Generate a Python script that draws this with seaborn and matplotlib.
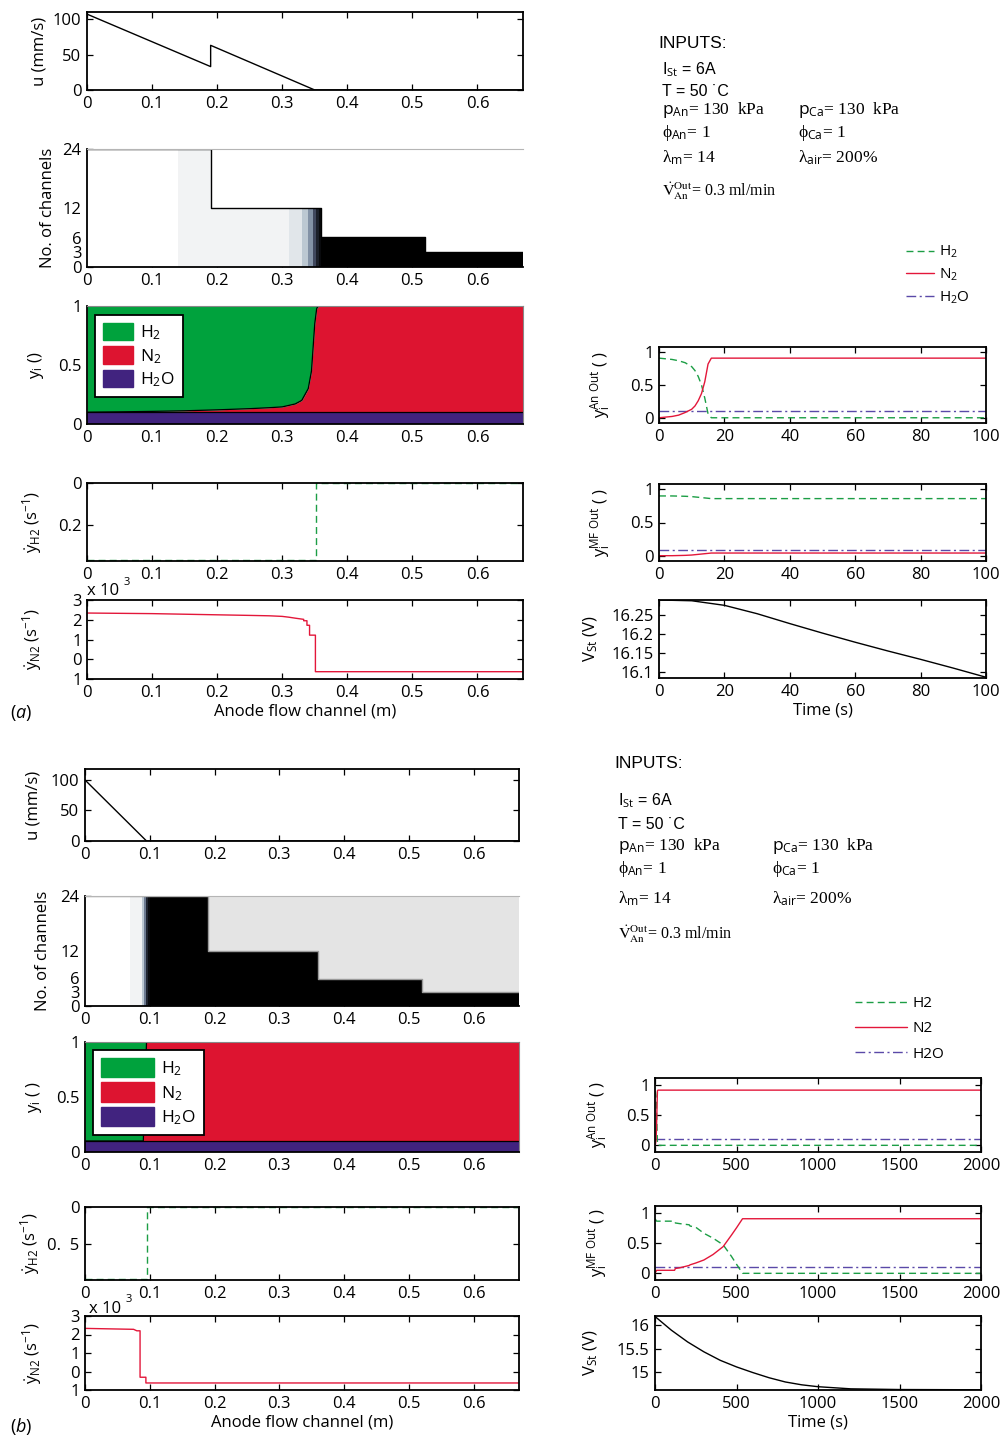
import numpy as np
import matplotlib
matplotlib.use("Agg")
import matplotlib.pyplot as plt
import seaborn as sns
from matplotlib.patches import Patch
from matplotlib.lines import Line2D
from matplotlib.colors import LinearSegmentedColormap

# ---------------- data ----------------
CH_EDGES = [0, 0.19, 0.36, 0.52, 0.67]
CH_COUNT = [24, 12, 6, 3]
CH_YEDGES = [0, 3, 6, 12, 24]

A_U_X = [0, 0.19, 0.19, 0.35, 0.67]
A_U_Y = [107, 33, 63, 0, 0]
B_U_X = [0, 0.095, 0.67]
B_U_Y = [100, 0, 0]

A_MAP_EDGES = [0, 0.14, 0.31, 0.33, 0.34, 0.347, 0.352, 0.356, 0.36, 0.67]
A_MAP_N2 = [0.0, 0.12, 0.25, 0.4, 0.55, 0.7, 0.82, 0.92, 1.0]
B_MAP_EDGES = [0, 0.07, 0.088, 0.091, 0.094, 0.097, 0.1, 0.67]
B_MAP_N2 = [0.0, 0.12, 0.4, 0.6, 0.8, 0.92, 1.0]

A_YI_X = [0, 0.05, 0.1, 0.15, 0.2, 0.25, 0.28, 0.3, 0.32, 0.33, 0.34, 0.345, 0.35, 0.353, 0.356, 0.36, 0.67]
A_YI_H2O = [0.1, 0.1, 0.1, 0.1, 0.1, 0.1, 0.1, 0.1, 0.1, 0.1, 0.1, 0.1, 0.1, 0.1, 0.1, 0.1, 0.1]
A_YI_N2 = [0.0, 0.003, 0.007, 0.012, 0.02, 0.03, 0.038, 0.045, 0.07, 0.1, 0.2, 0.35, 0.75, 0.88, 0.9, 0.9, 0.9]
A_YI_H2 = [0.9, 0.897, 0.893, 0.888, 0.88, 0.87, 0.862, 0.855, 0.83, 0.8, 0.7, 0.55, 0.15, 0.02, 0.0, 0.0, 0.0]

B_YI_X = [0, 0.09, 0.095, 0.67]
B_YI_H2O = [0.1, 0.1, 0.1, 0.1]
B_YI_N2 = [0.0, 0.0, 0.9, 0.9]
B_YI_H2 = [0.9, 0.9, 0.0, 0.0]

A_H2_X = [0, 0.352, 0.352, 0.67]
A_H2_Y = [-0.365, -0.365, 0.0, 0.0]
B_H2_X = [0, 0.095, 0.095, 0.67]
B_H2_Y = [-0.99, -0.99, 0.0, 0.0]

A_N2_X = [0, 0.1, 0.2, 0.25, 0.28, 0.3, 0.31, 0.32, 0.333, 0.333, 0.338, 0.338, 0.342, 0.342, 0.351, 0.351, 0.67]
A_N2_Y = [2.34, 2.31, 2.25, 2.22, 2.2, 2.17, 2.13, 2.08, 2.02, 1.95, 1.95, 1.72, 1.72, 1.22, 1.22, -0.63, -0.63]
B_N2_X = [0, 0.075, 0.08, 0.085, 0.085, 0.094, 0.094, 0.67]
B_N2_Y = [2.33, 2.28, 2.2, 2.2, -0.31, -0.31, -0.62, -0.62]

TA_AN = [0, 2, 4, 6, 8, 10, 11, 12, 13, 14, 15, 16, 100]
A_AN_N2 = [0.0, 0.01, 0.02, 0.04, 0.08, 0.13, 0.18, 0.26, 0.37, 0.55, 0.82, 0.91, 0.91]
A_AN_H2 = [0.91, 0.9, 0.89, 0.87, 0.84, 0.78, 0.72, 0.63, 0.5, 0.3, 0.06, 0.0, 0.0]
A_AN_H2O = [0.1, 0.1, 0.1, 0.1, 0.1, 0.1, 0.1, 0.1, 0.1, 0.1, 0.1, 0.1, 0.1]

TA_MF = [0, 4, 8, 10, 12, 14, 16, 100]
A_MF_H2 = [0.9, 0.9, 0.895, 0.89, 0.88, 0.87, 0.86, 0.86]
A_MF_N2 = [0.0, 0.0, 0.005, 0.01, 0.02, 0.03, 0.04, 0.04]
A_MF_H2O = [0.09, 0.09, 0.09, 0.09, 0.09, 0.09, 0.09, 0.09]

TA_V = [0, 10, 20, 30, 40, 50, 60, 70, 80, 90, 100]
A_V = [16.289, 16.287, 16.275, 16.253, 16.227, 16.202, 16.178, 16.155, 16.133, 16.11, 16.086]

TB_AN = [0, 3, 6, 9, 12, 15, 18, 2000]
B_AN_N2 = [0.0, 0.02, 0.08, 0.25, 0.6, 0.9, 0.91, 0.91]
B_AN_H2 = [0.9, 0.88, 0.82, 0.65, 0.3, 0.02, 0.0, 0.0]
B_AN_H2O = [0.1, 0.1, 0.1, 0.1, 0.1, 0.1, 0.1, 0.1]

TB_MF = [0, 10, 120, 125, 150, 210, 215, 250, 300, 356, 418, 469, 500, 537, 2000]
B_MF_H2 = [0.9, 0.86, 0.86, 0.83, 0.82, 0.8, 0.78, 0.76, 0.66, 0.58, 0.47, 0.28, 0.15, 0.0, 0.0]
B_MF_N2 = [0.0, 0.05, 0.05, 0.08, 0.09, 0.13, 0.14, 0.17, 0.22, 0.31, 0.44, 0.63, 0.75, 0.9, 0.9]
B_MF_H2O = [0.1, 0.1, 0.1, 0.1, 0.1, 0.1, 0.1, 0.1, 0.1, 0.1, 0.1, 0.1, 0.1, 0.1, 0.1]

TB_V = [0, 100, 200, 300, 400, 500, 600, 700, 800, 900, 1000, 1200, 1500, 2000]
B_V = [16.18, 15.89, 15.64, 15.43, 15.25, 15.11, 14.99, 14.88, 14.79, 14.73, 14.69, 14.645, 14.63, 14.625]

X_TICKS = [0, 0.1, 0.2, 0.3, 0.4, 0.5, 0.6]
X_TICKLABELS = ["0", "0.1", "0.2", "0.3", "0.4", "0.5", "0.6"]

# ---------------- style ----------------
sns.set_theme(style="ticks")
plt.rcParams.update({
    "font.family": ["Open Sans", "DejaVu Sans"],
    "mathtext.fontset": "custom",
    "mathtext.rm": "Open Sans",
    "mathtext.it": "Open Sans:italic",
    "mathtext.bf": "Open Sans:bold",
    "mathtext.sf": "Open Sans",
    "axes.linewidth": 1.3,
    "axes.edgecolor": "black",
    "axes.labelcolor": "black",
    "text.color": "black",
    "xtick.color": "black",
    "ytick.color": "black",
})

GREEN_F, RED_F, PURP_F = "#00a23d", "#dd1430", "#41237f"
GREEN, RED, PURP = "#1c9e45", "#e3173a", "#5a49a8"
DASH = (0, (5, 3))
DASHDOT = (0, (7, 2.5, 1.5, 2.5))
CH_CMAP = LinearSegmentedColormap.from_list(
    "ch", ["#ffffff", "#eff0f2", "#dde3e8", "#b4c1cd", "#7a899f", "#3a4258", "#101318", "#000000"])

W, H = 1001, 1435
fig = plt.figure(figsize=(W / 100, H / 100), dpi=100)


def add_ax(l, t, r, b):
    return fig.add_axes([l / W, 1 - b / H, (r - l) / W, (b - t) / H])


def style(ax, xlim, ylim, xt, xtl, yt, ytl, box=True):
    ax.set_xlim(*xlim)
    ax.set_ylim(*ylim)
    ax.set_xticks(xt)
    ax.set_xticklabels(xtl)
    ax.set_yticks(yt)
    ax.set_yticklabels(ytl)
    ax.tick_params(direction="in", top=box, right=box, length=4, width=0.9,
                   labelsize=12, pad=4)
    ax.set_xlabel("")
    ax.set_ylabel("")
    for s in ax.spines.values():
        s.set_linewidth(1.3)
        s.set_color("black")


def ylab(ax, text, xpix, l, r):
    ax.set_ylabel(text, fontsize=12)
    ax.yaxis.set_label_coords((xpix - l) / (r - l), 0.5)


def lp(ax, x, y, color, ls="-", lw=1.0, clip=True):
    sns.lineplot(x=x, y=y, ax=ax, color=color, linestyle=ls, lw=lw,
                 estimator=None, sort=False, legend=False, clip_on=clip)


def channel_panel(ax, edges, vals, above):
    xe = np.unique(np.concatenate([edges, CH_EDGES]))
    xc = 0.5 * (xe[:-1] + xe[1:])
    val = np.array(vals)[np.searchsorted(edges, xc) - 1]
    cnt = np.array(CH_COUNT)[np.searchsorted(CH_EDGES, xc) - 1]
    ye = np.array(CH_YEDGES, dtype=float)
    yc = 0.5 * (ye[:-1] + ye[1:])
    C = np.ma.masked_array(np.tile(val, (len(yc), 1)), yc[:, None] > cnt[None, :])
    ax.set_facecolor(above)
    ax.pcolormesh(xe, ye, C, cmap=CH_CMAP, vmin=0, vmax=1, shading="flat")


def left_column(L, R, rows, u_x, u_y, u_top, mapE, mapV, above, stepc,
                yi, h2x, h2y, h2lim, h2tick, h2lab, n2x, n2y, yi_lab, leg_hl, leg_hh,
                leg_anchor, lab_x):
    (tu, bu), (tc, bc), (ty, by), (th, bh), (tn, bn) = rows
    # u
    ax = add_ax(L, tu, R, bu)
    lp(ax, u_x, u_y, "black", lw=1.0)
    style(ax, (0, 0.67), (0, u_top), X_TICKS, X_TICKLABELS, [0, 50, 100], ["0", "50", "100"])
    ylab(ax, "u (mm/s)", lab_x[0], L, R)
    # channels
    ax = add_ax(L, tc, R, bc)
    channel_panel(ax, mapE, mapV, above)
    lp(ax, CH_EDGES, CH_COUNT + [CH_COUNT[-1]], stepc, lw=1.0)
    ax.lines[-1].set_drawstyle("steps-post")
    style(ax, (0, 0.67), (0, 24), X_TICKS, X_TICKLABELS, [0, 3, 6, 12, 24],
          ["0", "3", "6", "12", "24"], box=False)
    ax.spines["right"].set_visible(False)
    ax.spines["top"].set_color("#b5b5b5")
    ax.spines["top"].set_linewidth(0.8)
    ylab(ax, "No. of channels", lab_x[1], L, R)
    # y_i stack
    ax = add_ax(L, ty, R, by)
    x, h2o, n2, h2 = yi
    ax.stackplot(x, h2o, n2, h2, colors=[PURP_F, RED_F, GREEN_F], lw=0)
    lp(ax, x, h2o, "black", lw=0.9)
    lp(ax, x, np.add(h2o, n2), "black", lw=0.9)
    style(ax, (0, 0.67), (0, 1), X_TICKS, X_TICKLABELS, [0, 0.5, 1], ["0", "0.5", "1"], box=False)
    ax.tick_params(length=0)
    for s in ["top", "right"]:
        ax.spines[s].set_color("#888888")
        ax.spines[s].set_linewidth(0.8)
    handles = [Patch(fc=GREEN_F, ec=GREEN_F), Patch(fc=RED_F, ec=RED_F), Patch(fc=PURP_F, ec=PURP_F)]
    lg = ax.legend(handles, ["H$_2$", "N$_2$", "H$_2$O"], loc="upper left",
                   bbox_to_anchor=leg_anchor, fontsize=12.5, handlelength=leg_hl,
                   handleheight=leg_hh, fancybox=False, framealpha=1, edgecolor="black",
                   borderaxespad=0, labelspacing=0.25, handletextpad=0.4, borderpad=0.45)
    lg.get_frame().set_linewidth(1.3)
    ylab(ax, yi_lab, lab_x[2], L, R)
    # yH2 dot
    ax = add_ax(L, th, R, bh)
    lp(ax, h2x, h2y, GREEN, ls=DASH, lw=1.0, clip=False)
    style(ax, (0, 0.67), h2lim, X_TICKS, X_TICKLABELS, [h2tick, 0], [h2lab, "0"])
    ylab(ax, r"$\dot{\mathrm{y}}_{\mathrm{H2}}$ (s$^{-1}$)", lab_x[3], L, R)
    # yN2 dot
    ax = add_ax(L, tn, R, bn)
    lp(ax, n2x, n2y, RED, lw=1.0)
    style(ax, (0, 0.67), (-1, 3), X_TICKS, X_TICKLABELS, [-1, 0, 1, 2, 3],
          ["1", "0", "1", "2", "3"])
    ylab(ax, r"$\dot{\mathrm{y}}_{\mathrm{N2}}$ (s$^{-1}$)", lab_x[4], L, R)
    ax.set_xlabel("Anode flow channel (m)", fontsize=12, labelpad=2)
    return ax


def right_column(L, R, rows, tmax, tticks, an, mf, v, vlim, vticks, vlabels, ylims, lab_x):
    (ta, ba), (tm, bm), (tv, bv) = rows
    tl = [str(t) for t in tticks]
    for (t, b, data, lab, lx) in [(ta, ba, an, r"$\mathrm{y_i^{An\ Out}}$ ( )", lab_x[0]),
                                 (tm, bm, mf, r"$\mathrm{y_i^{MF\ Out}}$ ( )", lab_x[1])]:
        ax = add_ax(L, t, R, b)
        tt, h2, n2, h2o = data
        lp(ax, tt, h2o, PURP, ls=DASHDOT, lw=1.0)
        lp(ax, tt, h2, GREEN, ls=DASH, lw=1.0)
        lp(ax, tt, n2, RED, lw=1.0)
        style(ax, (0, tmax), ylims, tticks, tl, [0, 0.5, 1], ["0", "0.5", "1"])
        ylab(ax, lab, lx, L, R)
    ax = add_ax(L, tv, R, bv)
    lp(ax, v[0], v[1], "black", lw=1.0)
    style(ax, (0, tmax), vlim, tticks, tl, vticks, vlabels)
    ylab(ax, r"V$_{\mathrm{St}}$ (V)", lab_x[2], L, R)
    ax.set_xlabel("Time (s)", fontsize=12, labelpad=2)


# ---------- panel (a) ----------
left_column(87, 523, [(12, 90), (149, 267), (306, 424), (483, 561), (600, 679)],
            A_U_X, A_U_Y, 110, A_MAP_EDGES, A_MAP_N2, "white", "black",
            (A_YI_X, A_YI_H2O, A_YI_N2, A_YI_H2), A_H2_X, A_H2_Y, (-0.371, 0), -0.2, "0.2",
            A_N2_X, A_N2_Y, r"$\mathrm{y_i}$ ()", 1.75, 1.15, (0.018, 0.924),
            [47, 56, 46, 44, 44])
right_column(659, 986, [(347, 423), (484, 561), (600, 678)], 100, [0, 20, 40, 60, 80, 100],
             (TA_AN, A_AN_H2, A_AN_N2, A_AN_H2O), (TA_MF, A_MF_H2, A_MF_N2, A_MF_H2O),
             (TA_V, A_V), (16.084, 16.289), [16.1, 16.15, 16.2, 16.25],
             ["16.1", "16.15", "16.2", "16.25"], (-0.08, 1.08), [613, 613, 600])

# ---------- panel (b) ----------
left_column(85, 519, [(769, 841), (896, 1006), (1042, 1152), (1207, 1280), (1316, 1390)],
            B_U_X, B_U_Y, 118, B_MAP_EDGES, B_MAP_N2, "#e4e4e4", "#9a9a9a",
            (B_YI_X, B_YI_H2O, B_YI_N2, B_YI_H2), B_H2_X, B_H2_Y, (-1.0, 0), -0.5, "0.  5",
            B_N2_X, B_N2_Y, r"$\mathrm{y_i}$ ( )", 3.1, 1.35, (0.018, 0.927),
            [42, 51, 44, 42, 44])
right_column(655, 981, [(1078, 1152), (1206, 1280), (1316, 1390)], 2000, [0, 500, 1000, 1500, 2000],
             (TB_AN, B_AN_H2, B_AN_N2, B_AN_H2O), (TB_MF, B_MF_H2, B_MF_N2, B_MF_H2O),
             (TB_V, B_V), (14.62, 16.19), [15, 15.5, 16], ["15", "15.5", "16"],
             (-0.11, 1.11), [610, 610, 600])


# ---------- text ----------
def ftext(x, y, s, **kw):
    return fig.text(x / W, 1 - y / H, s, **kw)


ftext(87, 595, "x 10", fontsize=12, va="baseline")
ftext(89, 1313, "x 10", fontsize=12, va="baseline")
ftext(124, 585, "3", fontsize=8, va="baseline")
ftext(126, 1302, "3", fontsize=8, va="baseline")
ftext(10, 718, r"($\mathit{a}$)", fontsize=13, va="baseline")
ftext(10, 1432, r"($\mathit{b}$)", fontsize=13, va="baseline")

SANS = ["Liberation Sans", "DejaVu Sans"]
SERIF = ["Liberation Serif", "DejaVu Serif"]


def inputs(x0, x1, ys):
    yI, yIs, yT, yp, yphi, ylam, yV = ys
    ftext(x0 - 4, yI, "INPUTS:", fontsize=12.5, va="baseline", family=SANS)
    ftext(x0, yIs, "I$_{\\mathrm{St}}$ = 6A", fontsize=11.5, va="baseline", family=SANS)
    ftext(x0, yT, "T = 50 \u02d9C", fontsize=11.5, va="baseline", family=SANS)
    ftext(x0, yp, "$\\mathrm{p_{An}}$= 130  kPa", fontsize=12.5, va="baseline", family=SERIF)
    ftext(x1, yp, "$\\mathrm{p_{Ca}}$= 130  kPa", fontsize=12.5, va="baseline", family=SERIF)
    ftext(x0, yphi, "\u03d5$_{\\mathrm{An}}$= 1", fontsize=12.5, va="baseline", family=SERIF)
    ftext(x1, yphi, "\u03d5$_{\\mathrm{Ca}}$= 1", fontsize=12.5, va="baseline", family=SERIF)
    ftext(x0, ylam, "\u03bb$_{\\mathrm{m}}$= 14", fontsize=12.5, va="baseline", family=SERIF)
    ftext(x1, ylam, "\u03bb$_{\\mathrm{air}}$= 200%", fontsize=12.5, va="baseline", family=SERIF)
    ftext(x0, yV, "$\\dot{\\mathrm{V}}_{\\mathrm{An}}^{\\mathrm{Out}}$= 0.3 ml/min", fontsize=11.5,
          va="baseline", family=SERIF, math_fontfamily="stix")


inputs(662, 798, [48, 74, 96, 114, 137, 162, 196])
inputs(618, 772, [768, 805, 829, 850, 873, 903, 939])

lh = [Line2D([], [], color=GREEN, ls=DASH, lw=1.0),
      Line2D([], [], color=RED, lw=1.0),
      Line2D([], [], color=PURP, ls=DASHDOT, lw=1.0)]
fig.legend(lh, ["H$_2$", "N$_2$", "H$_2$O"], loc="upper left", bbox_to_anchor=(906 / W, 1 - 244 / H),
           frameon=False, fontsize=11, handlelength=1.8, handletextpad=0.35, labelspacing=0.42,
           borderpad=0, borderaxespad=0)
fig.legend(lh, ["H2", "N2", "H2O"], loc="upper left", bbox_to_anchor=(855 / W, 1 - 996 / H),
           frameon=False, fontsize=11, handlelength=3.4, handletextpad=0.35, labelspacing=0.68,
           borderpad=0, borderaxespad=0)

fig.savefig("out.png", dpi=100)
